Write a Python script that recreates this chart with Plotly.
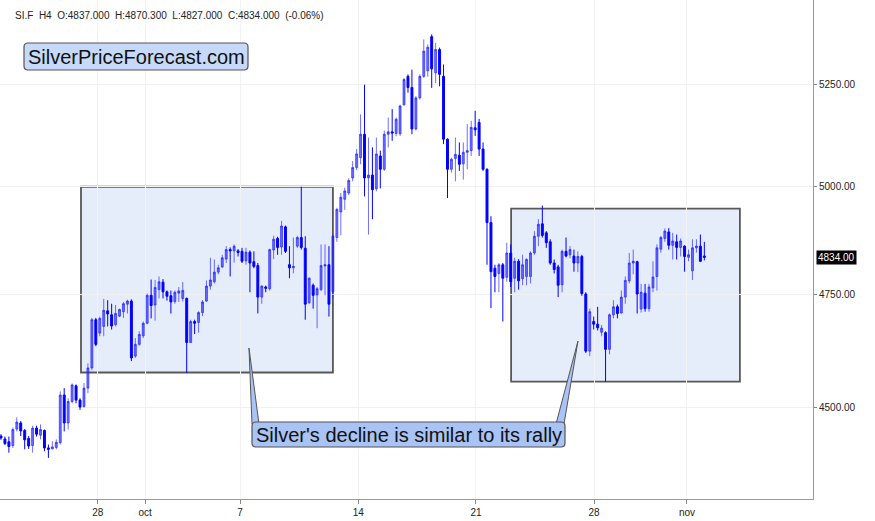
import math
import plotly.graph_objects as go

# ---------------- data ----------------
open_ = [4438, 4432, 4426, 4418, 4453, 4466, 4450, 4433, 4418, 4455,
         4440, 4450, 4413, 4411, 4414, 4424, 4526, 4466, 4512, 4546,
         4515, 4501, 4541, 4585, 4692, 4662, 4677, 4712, 4703, 4681,
         4700, 4710, 4727, 4734, 4611, 4637, 4656, 4684, 4747, 4725,
         4760, 4777, 4755, 4746, 4733, 4752, 4740, 4740, 4641, 4688,
         4686, 4708, 4734, 4768, 4778, 4800, 4812, 4830, 4852, 4849,
         4849, 4848, 4826, 4846, 4824, 4815, 4743, 4766, 4762, 4851,
         4878, 4858, 4905, 4817, 4810, 4860, 4880, 4855, 4730, 4770,
         4748, 4760, 4814, 4817, 4755, 4880, 4940, 4970, 4985, 5021,
         5046, 5070, 5127, 5021, 5028, 4995, 5074, 5042, 5127, 5133,
         5129, 5128, 5200, 5271, 5243, 5140, 5217, 5271, 5285, 5372,
         5280, 5339, 5271, 5115, 5042, 5068, 5076, 5055, 5083, 5087,
         5143, 5156, 5091, 5042, 4915, 4809, 4797, 4817, 4788, 4844,
         4786, 4825, 4785, 4790, 4790, 4844, 4883, 4912, 4891, 4870,
         4821, 4812, 4771, 4848, 4840, 4837, 4821, 4836, 4750, 4622,
         4688, 4682, 4664, 4663, 4626, 4703, 4721, 4707, 4743, 4780,
         4821, 4824, 4716, 4752, 4717, 4764, 4790, 4853, 4878, 4893,
         4862, 4870, 4857, 4860, 4834, 4803, 4856, 4860, 4837]
high = [4442, 4437, 4437, 4456, 4478, 4470, 4453, 4438, 4460, 4460,
        4463, 4452, 4420, 4427, 4431, 4534, 4541, 4519, 4551, 4549,
        4519, 4552, 4595, 4696, 4696, 4699, 4739, 4736, 4728, 4725,
        4717, 4732, 4737, 4738, 4651, 4666, 4688, 4751, 4783, 4782,
        4790, 4784, 4758, 4758, 4758, 4766, 4777, 4742, 4692, 4692,
        4711, 4736, 4781, 4833, 4829, 4817, 4840, 4860, 4857, 4864,
        4853, 4856, 4856, 4850, 4848, 4821, 4770, 4769, 4854, 4884,
        4882, 4919, 4908, 4860, 4880, 4884, 5000, 4883, 4788, 4774,
        4766, 4864, 4864, 4860, 4887, 4950, 4985, 4998, 5020, 5062,
        5091, 5176, 5250, 5119, 5095, 5119, 5087, 5136, 5168, 5189,
        5168, 5200, 5267, 5276, 5288, 5221, 5276, 5365, 5352, 5378,
        5356, 5344, 5301, 5117, 5070, 5119, 5107, 5107, 5152, 5160,
        5185, 5165, 5107, 5044, 4930, 4817, 4821, 4821, 4868, 4864,
        4833, 4830, 4840, 4832, 4848, 4895, 4923, 4955, 4895, 4876,
        4829, 4817, 4852, 4880, 4860, 4852, 4848, 4840, 4754, 4717,
        4699, 4721, 4680, 4666, 4706, 4736, 4726, 4758, 4790, 4844,
        4852, 4826, 4773, 4773, 4773, 4825, 4864, 4884, 4901, 4902,
        4891, 4887, 4878, 4862, 4852, 4876, 4876, 4887, 4870]
low = [4430, 4419, 4403, 4413, 4448, 4438, 4410, 4411, 4403, 4437,
       4431, 4406, 4392, 4410, 4410, 4420, 4448, 4452, 4508, 4508,
       4494, 4499, 4530, 4580, 4633, 4655, 4655, 4677, 4670, 4677,
       4698, 4696, 4706, 4600, 4607, 4634, 4651, 4682, 4695, 4690,
       4740, 4740, 4735, 4706, 4728, 4732, 4733, 4574, 4640, 4660,
       4663, 4700, 4732, 4760, 4774, 4795, 4809, 4821, 4790, 4822,
       4836, 4821, 4817, 4754, 4809, 4706, 4728, 4754, 4758, 4830,
       4840, 4840, 4844, 4786, 4797, 4856, 4852, 4692, 4728, 4717,
       4673, 4757, 4747, 4699, 4740, 4870, 4885, 4945, 4980, 5013,
       5040, 5054, 4977, 4887, 4923, 4989, 4996, 5038, 5095, 5111,
       5122, 5123, 5197, 5230, 5127, 5136, 5213, 5267, 5270, 5242,
       5254, 5246, 5103, 4973, 5034, 5013, 5038, 5017, 5042, 5074,
       5123, 5074, 5038, 4817, 4718, 4754, 4754, 4688, 4778, 4766,
       4754, 4760, 4770, 4770, 4774, 4840, 4860, 4880, 4856, 4817,
       4797, 4743, 4754, 4834, 4832, 4801, 4800, 4746, 4618, 4611,
       4670, 4668, 4655, 4555, 4615, 4695, 4695, 4706, 4728, 4774,
       4795, 4706, 4708, 4710, 4710, 4754, 4758, 4845, 4870, 4852,
       4829, 4829, 4836, 4801, 4825, 4782, 4845, 4823, 4827]
close = [4434, 4422, 4416, 4452, 4468, 4449, 4430, 4417, 4455, 4442,
         4452, 4413, 4410, 4415, 4425, 4526, 4466, 4512, 4548, 4515,
         4500, 4541, 4585, 4692, 4637, 4695, 4713, 4705, 4678, 4706,
         4715, 4728, 4734, 4607, 4637, 4659, 4684, 4747, 4724, 4765,
         4778, 4755, 4745, 4732, 4754, 4757, 4758, 4641, 4688, 4684,
         4708, 4732, 4768, 4782, 4800, 4810, 4833, 4852, 4849, 4860,
         4845, 4825, 4846, 4821, 4813, 4743, 4768, 4763, 4852, 4876,
         4857, 4907, 4848, 4810, 4813, 4880, 4857, 4727, 4786, 4747,
         4762, 4815, 4817, 4727, 4883, 4946, 4975, 4990, 5015, 5046,
         5079, 5127, 5021, 5028, 4993, 5079, 5042, 5127, 5133, 5130,
         5164, 5197, 5263, 5243, 5140, 5217, 5271, 5335, 5345, 5290,
         5339, 5276, 5115, 5042, 5066, 5078, 5054, 5083, 5087, 5144,
         5138, 5091, 5042, 4915, 4801, 4790, 4817, 4786, 4844, 4778,
         4825, 4780, 4817, 4829, 4844, 4883, 4911, 4885, 4868, 4821,
         4806, 4770, 4848, 4837, 4852, 4821, 4836, 4751, 4622, 4710,
         4682, 4674, 4673, 4626, 4703, 4721, 4706, 4743, 4781, 4821,
         4825, 4750, 4754, 4717, 4766, 4789, 4856, 4880, 4895, 4862,
         4872, 4857, 4872, 4836, 4840, 4856, 4860, 4825, 4834]
bar_index = list(range(len(open_)))

tick_index = [24.5, 36.5, 60.5, 90.4, 120.2, 150.1, 173.6]
tick_labels = ["28", "oct", "7", "14", "21", "28", "nov"]
price_ticks = [4500, 4750, 5000, 5250]
last_price = 4834.00
header_text = "SI.F  H4  O:4837.000  H:4870.300  L:4827.000  C:4834.000  (-0.06%)"
logo_text = "SilverPriceForecast.com"
callout_text = "Silver's decline is similar to its rally"

# comparison boxes (bar index range, price range)
box_left = (20.25, 84.0, 4575, 5000)
box_right = (129.1, 187.0, 4555, 4948)

# ---------------- figure ----------------
W, H = 875, 521
ML, MR, MT, MB = 0, 62, 0, 22
PW, PH = W - ML - MR, H - MT - MB


def xp(px):
    return px / PW


def yp(py):
    return 1 - py / PH


def rounded_path(x0, y0, x1, y1, r):
    pts = []
    pts.append("M %f,%f" % (xp(x0 + r), yp(y0)))
    pts.append("L %f,%f" % (xp(x1 - r), yp(y0)))
    pts.append("Q %f,%f %f,%f" % (xp(x1), yp(y0), xp(x1), yp(y0 + r)))
    pts.append("L %f,%f" % (xp(x1), yp(y1 - r)))
    pts.append("Q %f,%f %f,%f" % (xp(x1), yp(y1), xp(x1 - r), yp(y1)))
    pts.append("L %f,%f" % (xp(x0 + r), yp(y1)))
    pts.append("Q %f,%f %f,%f" % (xp(x0), yp(y1), xp(x0), yp(y1 - r)))
    pts.append("L %f,%f" % (xp(x0), yp(y0 + r)))
    pts.append("Q %f,%f %f,%f Z" % (xp(x0), yp(y0), xp(x0 + r), yp(y0)))
    return " ".join(pts)


def tri_path(p1, p2, p3):
    return "M %f,%f L %f,%f L %f,%f Z" % (xp(p1[0]), yp(p1[1]), xp(p2[0]), yp(p2[1]), xp(p3[0]), yp(p3[1]))


UP = "rgba(30,30,255,0.64)"
DOWN = "#0000ff"

fig = go.Figure()
fig.add_trace(go.Candlestick(
    x=bar_index, open=open_, high=high, low=low, close=close,
    increasing=dict(line=dict(color=UP, width=1), fillcolor=UP),
    decreasing=dict(line=dict(color=DOWN, width=1), fillcolor=DOWN),
    whiskerwidth=0, showlegend=False, hoverinfo="skip",
))

shapes = []
for (bx0, bx1, by0, by1) in (box_left, box_right):
    shapes.append(dict(type="rect", xref="x", yref="y", layer="below",
                       x0=bx0, x1=bx1, y0=by0, y1=by1,
                       fillcolor="#e5ecfa", line=dict(color="#585858", width=1.8)))

CALL_FILL = "#a9c3f4"
EDGE = "#555555"
# callout tails
shapes.append(dict(type="path", xref="paper", yref="paper",
                   path=tri_path((249, 348), (252, 424), (259, 424)),
                   fillcolor=CALL_FILL, line=dict(color=EDGE, width=1)))
shapes.append(dict(type="path", xref="paper", yref="paper",
                   path=tri_path((578, 341), (556, 424), (564, 424)),
                   fillcolor=CALL_FILL, line=dict(color=EDGE, width=1)))
# callout box
shapes.append(dict(type="path", xref="paper", yref="paper",
                   path=rounded_path(252, 422, 565, 447, 4),
                   fillcolor=CALL_FILL, line=dict(color=EDGE, width=1.2)))
# logo box
shapes.append(dict(type="path", xref="paper", yref="paper",
                   path=rounded_path(24, 43, 248, 70, 4),
                   fillcolor="#c6d9f8", line=dict(color=EDGE, width=1.2)))

annotations = [
    dict(xref="paper", yref="paper", x=xp(13), y=yp(15), xanchor="left", yanchor="middle",
         text=header_text, showarrow=False,
         font=dict(family="Liberation Sans, Arial", size=10, color="#222")),
    dict(xref="paper", yref="paper", x=xp(136), y=yp(57), xanchor="center", yanchor="middle",
         text=logo_text, showarrow=False,
         font=dict(family="Liberation Sans, Arial", size=20, color="#111")),
    dict(xref="paper", yref="paper", x=xp(408.5), y=yp(435), xanchor="center", yanchor="middle",
         text=callout_text, showarrow=False,
         font=dict(family="Liberation Sans, Arial", size=20, color="#111")),
    dict(xref="paper", yref="y", x=1, y=math.log10(last_price), xanchor="left", yanchor="middle",
         xshift=3, text="%.2f" % last_price, showarrow=False, bgcolor="#000000",
         borderpad=1, font=dict(family="Liberation Sans, Arial", size=10, color="#ffffff")),
]

fig.update_layout(
    width=W, height=H,
    margin=dict(l=ML, r=MR, t=MT, b=MB),
    paper_bgcolor="white", plot_bgcolor="white",
    shapes=shapes, annotations=annotations,
    showlegend=False,
)
fig.update_xaxes(
    range=[-0.25, 205.5], rangeslider=dict(visible=False),
    tickmode="array", tickvals=tick_index, ticktext=tick_labels,
    ticks="outside", ticklen=4, tickcolor="#888",
    showline=True, linecolor="#999", linewidth=1,
    showgrid=True, gridcolor="#f2f2f2", zeroline=False,
    tickfont=dict(family="Liberation Sans Narrow, Liberation Sans, Arial", size=10, color="#222"),
)
fig.update_yaxes(
    type="log", side="right",
    range=[math.log10(4306.5), math.log10(5467)],
    tickmode="array", tickvals=price_ticks, ticktext=["%.2f" % v for v in price_ticks],
    ticks="outside", ticklen=3, tickcolor="#888",
    showline=True, linecolor="#999", linewidth=1,
    showgrid=True, gridcolor="#f0f0f0", zeroline=False,
    tickfont=dict(family="Liberation Sans, Arial", size=10, color="#222"),
)

fig.write_html("out.html", config={"displayModeBar": False},
               post_script="document.body.style.margin='0';document.body.style.overflow='hidden';")
